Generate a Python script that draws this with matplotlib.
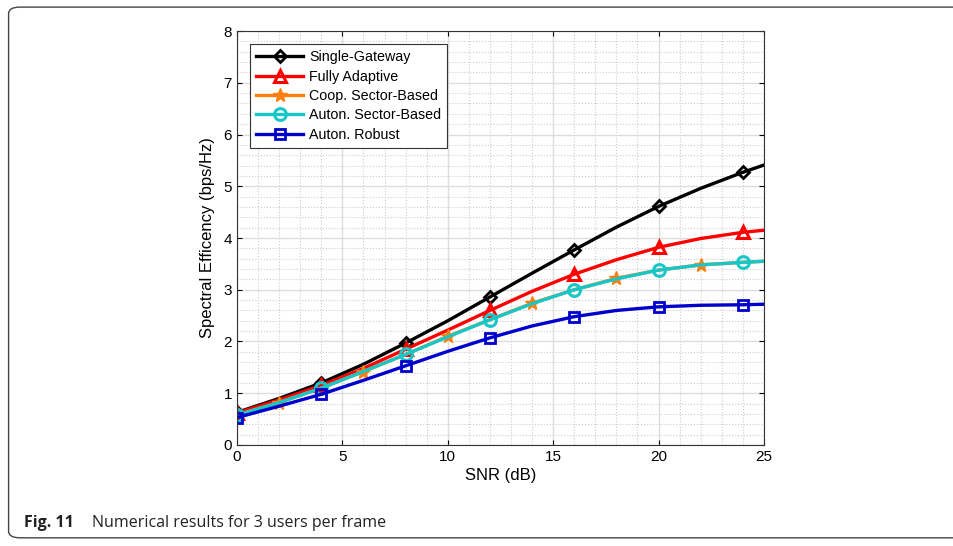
import matplotlib.pyplot as plt
import numpy as np
from matplotlib.patches import FancyBboxPatch
from matplotlib.ticker import MultipleLocator

# SNR points (dB)
snr = [0, 2, 4, 6, 8, 10, 12, 14, 16, 18, 20, 22, 24, 25]

single_gw = [0.63, 0.90, 1.20, 1.56, 1.97, 2.40, 2.86, 3.32, 3.77, 4.21, 4.61, 4.96, 5.27, 5.41]
fully_adapt = [0.62, 0.87, 1.15, 1.48, 1.85, 2.22, 2.60, 2.97, 3.30, 3.58, 3.82, 3.99, 4.11, 4.15]
coop_sector = [0.58, 0.82, 1.10, 1.42, 1.75, 2.10, 2.42, 2.74, 3.00, 3.22, 3.38, 3.48, 3.53, 3.55]
auton_sector = [0.58, 0.82, 1.10, 1.42, 1.75, 2.09, 2.42, 2.73, 3.00, 3.21, 3.38, 3.48, 3.53, 3.55]
auton_robust = [0.53, 0.75, 0.98, 1.25, 1.53, 1.81, 2.07, 2.30, 2.48, 2.60, 2.67, 2.70, 2.71, 2.72]

labels = ['Single-Gateway', 'Fully Adaptive', 'Coop. Sector-Based',
          'Auton. Sector-Based', 'Auton. Robust']

plt.rcParams['font.family'] = ['Liberation Sans', 'DejaVu Sans']

fig = plt.figure(figsize=(9.54, 5.46), dpi=100)

# rounded frame around figure + caption
frame = FancyBboxPatch((0.009, 0.015), 1.2, 0.972, boxstyle='round,pad=0,rounding_size=0.012',
                       transform=fig.transFigure, fill=False, ec='#444444', lw=1.0)
fig.patches.append(frame)

ax = fig.add_axes([0.2484, 0.185, 0.5524, 0.7582])

every4 = [0, 2, 4, 6, 8, 10, 12]
odd2 = [1, 3, 5, 7, 9, 11]
lw = 2.4
ax.plot(snr, single_gw, color='black', lw=lw, marker='D', ms=6.5, mfc='none', mew=2,
        markevery=every4, label=labels[0])
ax.plot(snr, fully_adapt, color='#ff0000', lw=lw, marker='^', ms=9, mfc='none', mew=2.2,
        markevery=every4, label=labels[1])
ax.plot(snr, coop_sector, color='#ff7f0e', lw=lw, marker='*', ms=10, mfc='#ff7f0e',
        markevery=odd2, label=labels[2])
ax.plot(snr, auton_sector, color='#17c7c7', lw=lw, marker='o', ms=8.5, mfc='none', mew=2.2,
        markevery=every4, label=labels[3])
ax.plot(snr, auton_robust, color='#0000cc', lw=lw, marker='s', ms=7, mfc='none', mew=2,
        markevery=every4, label=labels[4])

ax.set_xlim(0, 25)
ax.set_ylim(0, 8)
ax.xaxis.set_major_locator(MultipleLocator(5))
ax.xaxis.set_minor_locator(MultipleLocator(1))
ax.yaxis.set_major_locator(MultipleLocator(1))
ax.yaxis.set_minor_locator(MultipleLocator(0.2))
ax.grid(which='major', color='#dddddd', lw=1.0)
ax.grid(which='minor', color='#cccccc', lw=0.8, ls=':')
ax.set_axisbelow(True)
ax.tick_params(which='both', direction='in', top=True, right=True, labelsize=11)
ax.tick_params(which='minor', length=0)
for sp in ax.spines.values():
    sp.set_color('#333333')
    sp.set_linewidth(0.8)

ax.set_xlabel('SNR (dB)', fontsize=12, labelpad=3)
ax.set_ylabel('Spectral Efficency (bps/Hz)', fontsize=12, labelpad=6)

leg = ax.legend(loc='upper left', bbox_to_anchor=(0.012, 0.985), fontsize=10.3,
                fancybox=False, edgecolor='#333333', framealpha=1,
                handlelength=3.3, borderpad=0.4, labelspacing=0.38, handletextpad=0.4)
leg.get_frame().set_linewidth(0.8)

fig.text(0.025, 0.034, 'Fig. 11', fontsize=11.5, fontweight='bold',
         family=['Open Sans', 'DejaVu Sans'], color='#222222')
fig.text(0.0965, 0.034, 'Numerical results for 3 users per frame', fontsize=11.5,
         family=['Open Sans', 'DejaVu Sans'], color='#222222')

fig.savefig('out.png', dpi=100)
